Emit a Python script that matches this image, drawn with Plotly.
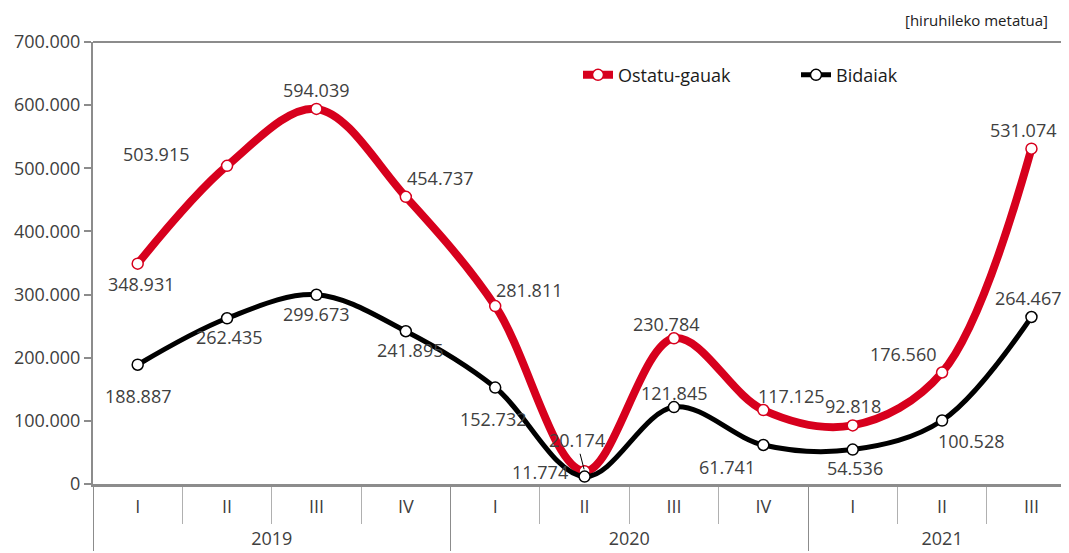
import plotly.graph_objects as go

years = ["2019"] * 4 + ["2020"] * 4 + ["2021"] * 3
quarters = ["I", "II", "III", "IV", "I", "II", "III", "IV", "I", "II", "III"]
ostatu = [348931, 503915, 594039, 454737, 281811, 20174, 230784, 117125, 92818, 176560, 531074]
bidaiak = [188887, 262435, 299673, 241895, 152732, 11774, 121845, 61741, 54536, 100528, 264467]
yticks = [0, 100000, 200000, 300000, 400000, 500000, 600000, 700000]

# label offsets (pixels) relative to each point
ostatu_off = [(3, 20), (-71, -12), (0, -19), (34, -19), (34, -16), (-8, -31), (-8, -14), (28, -14), (0, -19), (-39, -19), (-8, -19)]
bidaiak_off = [(0, 31), (2, 19), (0, 19), (4, 19), (-2, 31), (-45, -5), (0, -14), (-36, 22), (2, 18), (29, 20), (-3, -19)]

RED = "#d7001d"
GRAY = "#404040"
FONT = "Open Sans"
LBL = 18

# invisible tall spacer so the year row sits lower, as in the original
SP = "<span style='font-size:25px'> </span>"
qlabels = [SP + q + SP for q in quarters]
xcat = [years, qlabels]

def fmt(v):
    return f"{v:,}".replace(",", ".")

fig = go.Figure()
fig.add_trace(go.Scatter(
    x=xcat, y=ostatu, name="Ostatu-gauak", mode="lines+markers",
    line=dict(color=RED, width=8, shape="spline", smoothing=1.0),
    marker=dict(symbol="circle", size=11, color="white", line=dict(color=RED, width=1.5)),
))
fig.add_trace(go.Scatter(
    x=xcat, y=bidaiak, name="Bidaiak", mode="lines+markers",
    line=dict(color="black", width=5, shape="spline", smoothing=1.0),
    marker=dict(symbol="circle", size=11, color="white", line=dict(color="black", width=1.5)),
))

annotations = []
for i, (y, q) in enumerate(zip(years, qlabels)):
    dx, dy = ostatu_off[i]
    if i == 5:
        annotations.append(dict(x=[y, q], y=ostatu[i], xref="x", yref="y", text=fmt(ostatu[i]),
                                showarrow=True, ax=dx, ay=dy, arrowhead=0, arrowwidth=1,
                                arrowcolor="black", standoff=2,
                                font=dict(family=FONT, size=LBL, color=GRAY)))
    else:
        annotations.append(dict(x=[y, q], y=ostatu[i], xref="x", yref="y", text=fmt(ostatu[i]),
                                showarrow=False, xshift=dx, yshift=-dy,
                                font=dict(family=FONT, size=LBL, color=GRAY)))
    dx, dy = bidaiak_off[i]
    annotations.append(dict(x=[y, q], y=bidaiak[i], xref="x", yref="y", text=fmt(bidaiak[i]),
                            showarrow=False, xshift=dx, yshift=-dy,
                            font=dict(family=FONT, size=LBL, color=GRAY)))

annotations.append(dict(x=(1050 - 93) / 976, y=(484 - 20) / 442, xref="paper", yref="paper",
                        text="[hiruhileko metatua]",
                        showarrow=False, xanchor="right", yanchor="middle",
                        font=dict(family=FONT, size=15, color="#202020")))

fig.update_layout(
    width=1061, height=545,
    margin=dict(l=85, r=0, t=34, b=69, autoexpand=False),
    paper_bgcolor="white", plot_bgcolor="white",
    separators=",.",
    hovermode=False,
    font=dict(family=FONT, size=18, color=GRAY),
    showlegend=True,
    legend=dict(orientation="h", x=(578 - 93) / 976, xanchor="left", y=0.925, yanchor="middle",
                font=dict(family=FONT, size=18, color="#1a1a1a"), bgcolor="rgba(0,0,0,0)",
                entrywidth=173, entrywidthmode="pixels"),
    annotations=annotations,
    shapes=[dict(type="line", xref="paper", yref="paper", x0=0, x1=1, y0=1, y1=1,
                 line=dict(color="#8c8c8c", width=2))],
)

fig.update_yaxes(range=[0, 700000], tickvals=yticks, tickformat=",d",
                 showgrid=False, zeroline=False, showline=True, linecolor="#8c8c8c", linewidth=2,
                 ticks="outside", ticklen=7, tickcolor="#8c8c8c", tickwidth=2,
                 tickfont=dict(family=FONT, size=18, color=GRAY))
fig.update_xaxes(type="multicategory", range=[-0.5, 10.42],
                 showgrid=False, showline=True, linecolor="#8c8c8c", linewidth=3,
                 ticks="outside", tickson="boundaries", ticklen=37, tickcolor="#b0b0b0", tickwidth=1,
                 showdividers=True, dividercolor="#8c8c8c", dividerwidth=1,
                 ticklabelstandoff=4,
                 tickfont=dict(family=FONT, size=18, color=GRAY))

fig.write_html("out.html", config={"displayModeBar": False})
